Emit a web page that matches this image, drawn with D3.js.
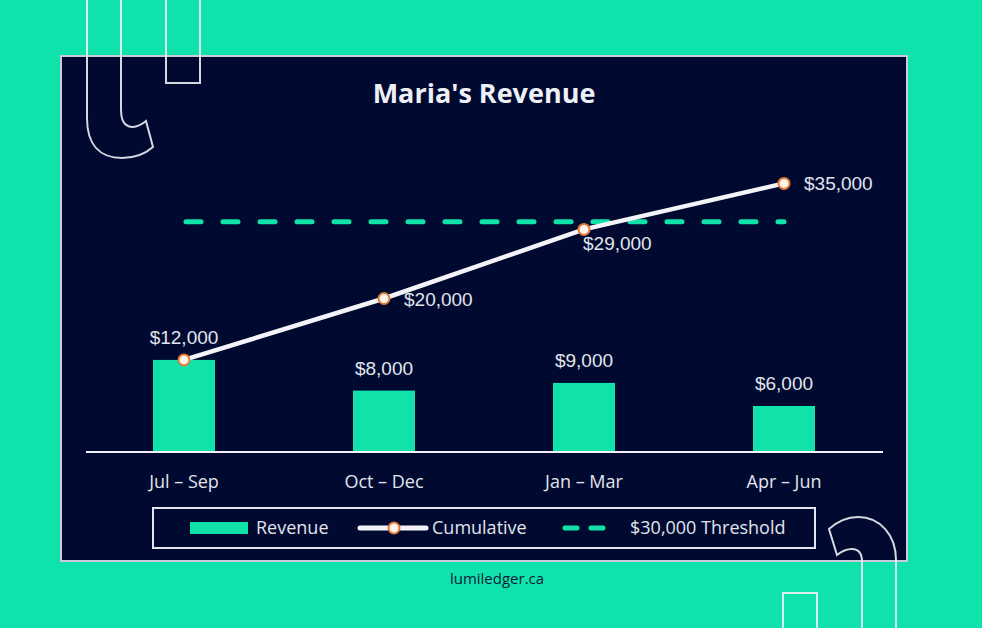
<!DOCTYPE html>
<html lang="en">
<head>
    <meta charset="UTF-8">
    <title>Maria's Revenue</title>
    <script src="https://d3js.org/d3.v7.min.js"></script>
    <style>
        body { margin: 0; background: #0fe3ab; }
        svg { display: block; }
    </style>
</head>
<body>
    <script>
        // chart data
        const quarters = ["Jul \u2013 Sep", "Oct \u2013 Dec", "Jan \u2013 Mar", "Apr \u2013 Jun"];
        const revenue = [12000, 8000, 9000, 6000];
        const cumulative = [12000, 20000, 29000, 35000];
        const threshold = 30000;
        const legendLabels = ["Revenue", "Cumulative", "$30,000 Threshold"];

        const W = 982, H = 628;
        const green = "#10e2aa", navy = "#000a30", text = "#e2e4ec";
        const fmt = v => "$" + d3.format(",")(v);

        const svg = d3.select("body").append("svg")
            .attr("width", W)
            .attr("height", H);

        svg.append("rect").attr("width", W).attr("height", H).attr("fill", "#0fe3ab");

        // dark panel
        svg.append("rect")
            .attr("x", 61).attr("y", 56)
            .attr("width", 846).attr("height", 505)
            .attr("fill", navy)
            .attr("stroke", "#c9ccd8")
            .attr("stroke-width", 2);

        // decorative outlines
        const deco = svg.append("g")
            .attr("fill", "none")
            .attr("stroke", "rgba(236,238,244,0.9)")
            .attr("stroke-width", 2);
        deco.append("path").attr("d",
            "M87,0 V118 C87,145 100,158 122,158 C134,158 145,154 153,147 L146,121 C140,126 133,128 128,126 C123,124 121,118 121,110 V0");
        deco.append("path").attr("d", "M166,0 V83 H200 V0");
        deco.append("path").attr("d",
            "M896,628 V560 C896,535 880,517 858,517 C848,517 838,521 829,529 L837,555 C842,551 848,549 852,549 C858,549 862,553 862,562 V628");
        deco.append("path").attr("d", "M783,628 V593 H817 V628");

        // title
        svg.append("text")
            .attr("x", 484).attr("y", 103)
            .attr("text-anchor", "middle")
            .attr("font-family", "Open Sans")
            .attr("font-weight", 700)
            .attr("font-size", 27)
            .attr("fill", "#eef0f6")
            .text("Maria's Revenue");

        // scales
        const x = d3.scaleBand()
            .domain(quarters)
            .range([84, 884])
            .paddingInner(0.69)
            .paddingOuter(0.345);

        const y = d3.scaleLinear()
            .domain([0, 40000])
            .range([452, 145]);

        const cx = d => x(d) + x.bandwidth() / 2;

        // bars
        svg.append("g").selectAll("rect")
            .data(revenue)
            .join("rect")
            .attr("x", (d, i) => x(quarters[i]))
            .attr("y", d => y(d))
            .attr("width", x.bandwidth())
            .attr("height", d => y(0) - y(d))
            .attr("fill", green);

        // bar value labels
        svg.append("g").selectAll("text")
            .data(revenue)
            .join("text")
            .attr("x", (d, i) => cx(quarters[i]))
            .attr("y", d => y(d) - 16)
            .attr("text-anchor", "middle")
            .attr("font-family", "Liberation Sans, Arial, sans-serif")
            .attr("font-size", 19)
            .attr("fill", text)
            .text(fmt);

        // x axis
        const xAxis = svg.append("g")
            .attr("transform", `translate(0,${y(0)})`)
            .call(d3.axisBottom(x).tickSize(0).tickSizeOuter(0).tickPadding(23));
        xAxis.select(".domain").attr("stroke", "#f0f2f8").attr("stroke-width", 2)
            .attr("d", "M86,0H883");
        xAxis.selectAll("text")
            .attr("font-family", "Open Sans")
            .attr("font-size", 18)
            .attr("fill", text);

        // threshold
        svg.append("line")
            .attr("x1", cx(quarters[0]) + 2)
            .attr("x2", cx(quarters[3]))
            .attr("y1", y(threshold))
            .attr("y2", y(threshold))
            .attr("stroke", green)
            .attr("stroke-width", 5)
            .attr("stroke-linecap", "round")
            .attr("stroke-dasharray", "15,22");

        // cumulative line
        const line = d3.line()
            .x((d, i) => cx(quarters[i]))
            .y(d => y(d));
        svg.append("path")
            .datum(cumulative)
            .attr("d", line)
            .attr("fill", "none")
            .attr("stroke", "#f4f4f8")
            .attr("stroke-width", 4.5);

        svg.append("g").selectAll("circle")
            .data(cumulative)
            .join("circle")
            .attr("cx", (d, i) => cx(quarters[i]))
            .attr("cy", d => y(d))
            .attr("r", 5.5)
            .attr("fill", "#fff4ec")
            .attr("stroke", "#df7c3a")
            .attr("stroke-width", 2);

        // cumulative labels (first one is shared with the bar label)
        svg.append("g").selectAll("text")
            .data(cumulative.slice(1))
            .join("text")
            .attr("x", (d, i) => cx(quarters[i + 1]) + (i === 1 ? -1 : 20))
            .attr("y", (d, i) => y(d) + (i === 1 ? 21 : 7))
            .attr("font-family", "Liberation Sans, Arial, sans-serif")
            .attr("font-size", 19)
            .attr("fill", text)
            .text(fmt);

        // legend
        const lg = svg.append("g");
        lg.append("rect")
            .attr("x", 153).attr("y", 508)
            .attr("width", 662).attr("height", 40)
            .attr("fill", "none")
            .attr("stroke", "#e4e6ee")
            .attr("stroke-width", 2);

        lg.append("rect")
            .attr("x", 190).attr("y", 522)
            .attr("width", 58).attr("height", 12)
            .attr("fill", green);

        lg.append("line")
            .attr("x1", 360).attr("x2", 426)
            .attr("y1", 528).attr("y2", 528)
            .attr("stroke", "#f4f4f8")
            .attr("stroke-width", 5)
            .attr("stroke-linecap", "round");
        lg.append("circle")
            .attr("cx", 394).attr("cy", 528).attr("r", 5.5)
            .attr("fill", "#fff4ec")
            .attr("stroke", "#df7c3a")
            .attr("stroke-width", 2);

        lg.append("line")
            .attr("x1", 565).attr("x2", 603)
            .attr("y1", 528).attr("y2", 528)
            .attr("stroke", green)
            .attr("stroke-width", 5)
            .attr("stroke-linecap", "round")
            .attr("stroke-dasharray", "12,14");

        lg.selectAll("text.item")
            .data(legendLabels)
            .join("text")
            .attr("class", "item")
            .attr("x", (d, i) => [256, 432, 630][i])
            .attr("y", 534)
            .attr("font-family", "Open Sans")
            .attr("font-size", 18)
            .attr("fill", text)
            .text(d => d);

        // footer
        svg.append("text")
            .attr("x", 497).attr("y", 584)
            .attr("text-anchor", "middle")
            .attr("font-family", "Open Sans")
            .attr("font-size", 15)
            .attr("fill", "#0b1a3c")
            .text("lumiledger.ca");
    </script>
</body>
</html>
